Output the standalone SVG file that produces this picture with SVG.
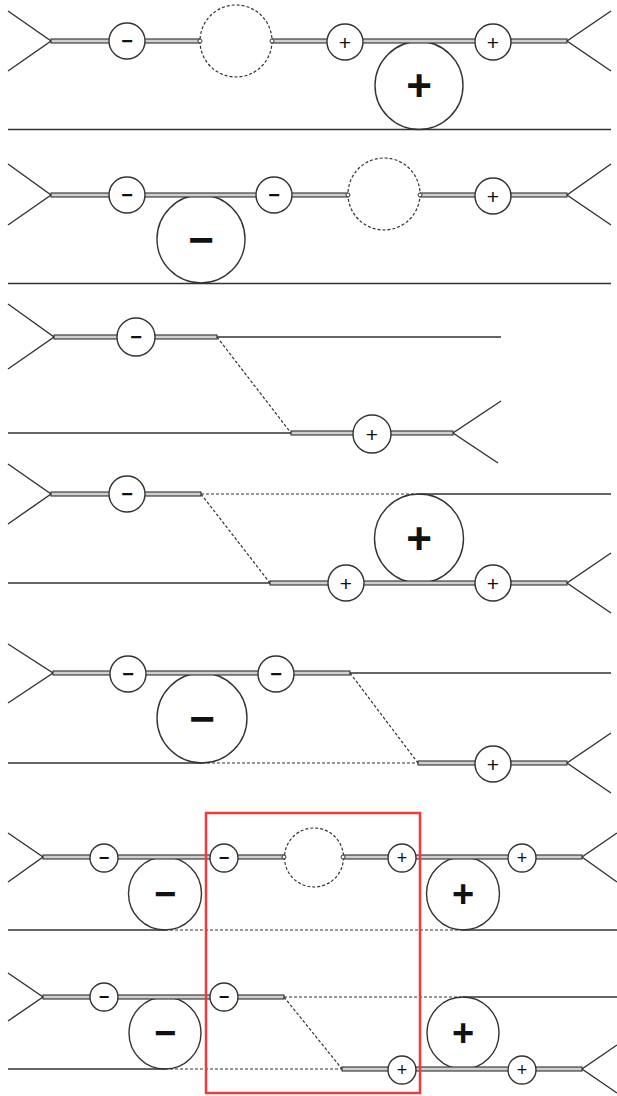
<svg xmlns="http://www.w3.org/2000/svg" width="617" height="1096" viewBox="0 0 617 1096">
  <style>
    .ln { stroke: #333; stroke-width: 1.4; fill: none; }
    .dl { stroke: #333; stroke-width: 1.2; fill: none; stroke-dasharray: 3 2; }
    .rail { fill: #cfcfcf; stroke: #2e2e2e; stroke-width: 1.1; }
    .sc { fill: #fff; stroke: #333; stroke-width: 1.4; }
    .bc { fill: #fff; stroke: #333; stroke-width: 1.4; }
    .dc { fill: #fff; stroke: #333; stroke-width: 1.2; stroke-dasharray: 3 2; }
    .jn { fill: #fff; stroke: #333; stroke-width: 1; }
    .s { font-family: "Liberation Sans", Arial, sans-serif; font-size: 21px; text-anchor: middle; fill: #111; }
    .m { font-weight: bold; font-size: 20px; }
    .sm { font-size: 18px; }
    .b { font-family: "Liberation Sans", Arial, sans-serif; font-size: 44px; font-weight: bold; text-anchor: middle; fill: #111; }
    .bm { font-size: 38px; }
    .frame { fill: none; stroke: #f23a3a; stroke-width: 2.5; }
  </style>

  <!-- large charge bubbles sit under the track lines -->
  <g id="big-nodes">
    <g id="r1-big-plus"><circle class="bc" cx="419" cy="85.5" r="44"/><text class="b" x="419" y="85.5" dominant-baseline="central">+</text></g>
    <g id="r2-big-minus"><circle class="bc" cx="201" cy="239" r="44"/><text class="b" x="201" y="239" dominant-baseline="central">−</text></g>
    <g id="r4-big-plus"><circle class="bc" cx="419" cy="538.5" r="44.5"/><text class="b" x="419" y="538.5" dominant-baseline="central">+</text></g>
    <g id="r5-big-minus"><circle class="bc" cx="202" cy="718" r="45"/><text class="b" x="202" y="718" dominant-baseline="central">−</text></g>
    <g id="r6-big-minus"><circle class="bc" cx="165" cy="893.5" r="36.5"/><text class="b bm" x="165" y="893.5" dominant-baseline="central">−</text></g>
    <g id="r6-big-plus"><circle class="bc" cx="463" cy="893.5" r="36.5"/><text class="b bm" x="463" y="893.5" dominant-baseline="central">+</text></g>
    <g id="r7-big-minus"><circle class="bc" cx="165" cy="1033" r="36"/><text class="b bm" x="165" y="1033" dominant-baseline="central">−</text></g>
    <g id="r7-big-plus"><circle class="bc" cx="463" cy="1033" r="36"/><text class="b bm" x="463" y="1033" dominant-baseline="central">+</text></g>
  </g>

  <g id="connectors">
    <!-- row 1 -->
    <path class="ln" d="M8 11 L51 41 L8 71 M611 11 L567 41 L611 71 M8 129.5 H611"/>
    <rect class="rail" x="51" y="39" width="149" height="4"/>
    <rect class="rail" x="272" y="39" width="295" height="4"/>
    <!-- row 2 -->
    <path class="ln" d="M8 164 L51 195 L8 225 M611 164 L567 195 L611 225 M8 283.5 H611"/>
    <rect class="rail" x="51" y="193" width="297" height="4"/>
    <rect class="rail" x="420" y="193" width="147" height="4"/>
    <!-- row 3 -->
    <path class="ln" d="M8 304 L54 337 L8 369 M217 337 H501 M8 433 H291 M501 401 L453 433 L498 463"/>
    <rect class="rail" x="54" y="335" width="163" height="4"/>
    <rect class="rail" x="291" y="431" width="162" height="4"/>
    <path class="dl" d="M217 337 L291 433"/>
    <!-- row 4 -->
    <path class="ln" d="M8 464 L51 494 L8 524 M419 494 H611 M8 583 H270 M611 553 L567 583 L611 613"/>
    <rect class="rail" x="51" y="492" width="150" height="4"/>
    <rect class="rail" x="270" y="581" width="297" height="4"/>
    <path class="dl" d="M201 494 H419 M201 494 L270 583"/>
    <!-- row 5 -->
    <path class="ln" d="M8 644 L53 673 L8 703 M350 673 H611 M8 763 H202 M611 733 L567 763 L611 793"/>
    <rect class="rail" x="53" y="671" width="297" height="4"/>
    <rect class="rail" x="418" y="761" width="149" height="4"/>
    <path class="dl" d="M350 673 L418 763 M202 763 H418"/>
    <!-- row 6 -->
    <path class="ln" d="M8 833 L43 857 L8 882 M617 833 L582 857 L617 882 M8 930 H165 M463 930 H617"/>
    <rect class="rail" x="43" y="855" width="241" height="4"/>
    <rect class="rail" x="343" y="855" width="239" height="4"/>
    <path class="dl" d="M165 930 H463"/>
    <!-- row 7 -->
    <path class="ln" d="M8 973 L43 997 L8 1021 M463 997 H617 M8 1069 H165 M617 1045 L582 1069 L617 1093"/>
    <rect class="rail" x="43" y="995" width="241" height="4"/>
    <rect class="rail" x="342" y="1067" width="240" height="4"/>
    <path class="dl" d="M284 997 H463 M284 997 L342 1069 M165 1069 H342"/>
  </g>

  <!-- small charge bubbles and empty (dashed) sites on the tracks -->
  <g id="r1-minus"><circle class="sc" cx="127" cy="41" r="18"/><text class="s m" x="127" y="41" dominant-baseline="central">−</text></g>
  <g id="r1-gap"><circle class="dc" cx="236" cy="41" r="36"/><circle class="jn" cx="200" cy="41" r="2"/><circle class="jn" cx="272" cy="41" r="2"/></g>
  <g id="r1-plus-a"><circle class="sc" cx="345" cy="42" r="18"/><text class="s" x="345" y="42" dominant-baseline="central">+</text></g>
  <g id="r1-plus-b"><circle class="sc" cx="493" cy="42" r="18"/><text class="s" x="493" y="42" dominant-baseline="central">+</text></g>

  <g id="r2-minus-a"><circle class="sc" cx="127" cy="195" r="18"/><text class="s m" x="127" y="195" dominant-baseline="central">−</text></g>
  <g id="r2-minus-b"><circle class="sc" cx="274" cy="195" r="18"/><text class="s m" x="274" y="195" dominant-baseline="central">−</text></g>
  <g id="r2-gap"><circle class="dc" cx="384" cy="194" r="36"/><circle class="jn" cx="348" cy="195" r="2"/><circle class="jn" cx="420" cy="195" r="2"/></g>
  <g id="r2-plus"><circle class="sc" cx="493" cy="196" r="18"/><text class="s" x="493" y="196" dominant-baseline="central">+</text></g>

  <g id="r3-minus"><circle class="sc" cx="136" cy="337" r="19"/><text class="s m" x="136" y="337" dominant-baseline="central">−</text></g>
  <g id="r3-plus"><circle class="sc" cx="372" cy="434" r="19"/><text class="s" x="372" y="434" dominant-baseline="central">+</text></g>

  <g id="r4-minus"><circle class="sc" cx="127" cy="494" r="18"/><text class="s m" x="127" y="494" dominant-baseline="central">−</text></g>
  <g id="r4-plus-a"><circle class="sc" cx="346" cy="583" r="18"/><text class="s" x="346" y="583" dominant-baseline="central">+</text></g>
  <g id="r4-plus-b"><circle class="sc" cx="493" cy="583" r="18"/><text class="s" x="493" y="583" dominant-baseline="central">+</text></g>

  <g id="r5-minus-a"><circle class="sc" cx="128" cy="674" r="18"/><text class="s m" x="128" y="674" dominant-baseline="central">−</text></g>
  <g id="r5-minus-b"><circle class="sc" cx="276" cy="674" r="18"/><text class="s m" x="276" y="674" dominant-baseline="central">−</text></g>
  <g id="r5-plus"><circle class="sc" cx="493" cy="764" r="18"/><text class="s" x="493" y="764" dominant-baseline="central">+</text></g>

  <g id="r6-minus-a"><circle class="sc" cx="104" cy="858" r="14"/><text class="s m sm" x="104" y="858" dominant-baseline="central">−</text></g>
  <g id="r6-minus-b"><circle class="sc" cx="224" cy="858" r="14"/><text class="s m sm" x="224" y="858" dominant-baseline="central">−</text></g>
  <g id="r6-gap"><circle class="dc" cx="314" cy="857.5" r="29.5"/><circle class="jn" cx="284" cy="857" r="2"/><circle class="jn" cx="343" cy="857" r="2"/></g>
  <g id="r6-plus-a"><circle class="sc" cx="402" cy="858" r="14"/><text class="s sm" x="402" y="858" dominant-baseline="central">+</text></g>
  <g id="r6-plus-b"><circle class="sc" cx="522" cy="858" r="14"/><text class="s sm" x="522" y="858" dominant-baseline="central">+</text></g>

  <g id="r7-minus-a"><circle class="sc" cx="104" cy="997" r="14"/><text class="s m sm" x="104" y="997" dominant-baseline="central">−</text></g>
  <g id="r7-minus-b"><circle class="sc" cx="224" cy="997" r="14"/><text class="s m sm" x="224" y="997" dominant-baseline="central">−</text></g>
  <g id="r7-plus-a"><circle class="sc" cx="402" cy="1070" r="14"/><text class="s sm" x="402" y="1070" dominant-baseline="central">+</text></g>
  <g id="r7-plus-b"><circle class="sc" cx="522" cy="1070" r="14"/><text class="s sm" x="522" y="1070" dominant-baseline="central">+</text></g>

  <!-- highlight frame around the central section of the last two rows -->
  <g id="highlight"><rect class="frame" x="206" y="813" width="214" height="280"/></g>
</svg>
